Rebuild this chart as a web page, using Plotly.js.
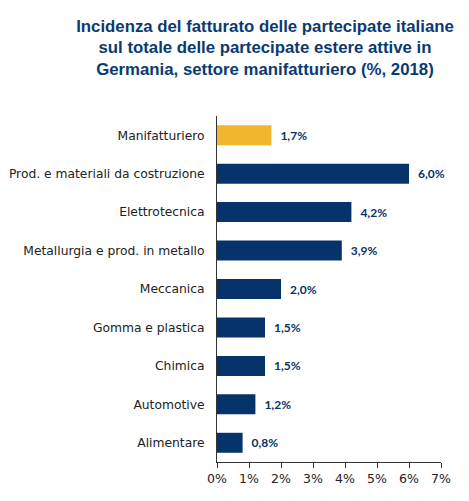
<!DOCTYPE html>
<html><head><meta charset="utf-8">
<script src="https://cdn.plot.ly/plotly-3.0.1.min.js"></script>
<style>html,body{margin:0;padding:0;background:#fff;}#chart{width:469px;height:501px;}</style>
</head><body><div id="chart"></div>
<script>
const categories = ["Manifatturiero","Prod. e materiali da costruzione","Elettrotecnica","Metallurgia e prod. in metallo","Meccanica","Gomma e plastica","Chimica","Automotive","Alimentare"];
const values = [1.7, 6.0, 4.2, 3.9, 2.0, 1.5, 1.5, 1.2, 0.8];
const valueLabels = ["1,7%","6,0%","4,2%","3,9%","2,0%","1,5%","1,5%","1,2%","0,8%"];
const tickVals = [0,1,2,3,4,5,6,7];
const tickText = ["0%","1%","2%","3%","4%","5%","6%","7%"];
const navy = "#06336B", gold = "#F0B62E";
const colors = categories.map((c,i)=> i===0 ? gold : navy);

Plotly.newPlot("chart", [{
  type: "bar", orientation: "h",
  y: categories, x: values,
  marker: {color: colors, line: {width: 0}},
  width: 0.52,
  text: valueLabels.map(t => "\u2002" + t), textposition: "outside",
  textfont: {family: "Lato, 'DejaVu Sans', sans-serif", size: 12, color: navy, weight: "bold"},
  cliponaxis: false, hoverinfo: "none"
}], {
  width: 469, height: 501,
  margin: {l: 217, r: 28, t: 116, b: 39, pad: 0},
  paper_bgcolor: "#fff", plot_bgcolor: "#fff",
  showlegend: false,
  title: {
    text: "<b>Incidenza del fatturato delle partecipate italiane<br>sul totale delle partecipate estere attive in<br>Germania, settore manifatturiero (%, 2018)</b>",
    font: {family: "'Liberation Sans', Arial, sans-serif", size: 16.8, color: "#0B3A72"},
    x: 0.565, xanchor: "center", y: 0.937, yanchor: "top"
  },
  xaxis: {
    range: [0, 7], tickvals: tickVals, ticktext: tickText,
    showgrid: false, zeroline: false,
    showline: true, linecolor: "#333", linewidth: 1,
    ticks: "outside", ticklen: 5, tickcolor: "#333",
    tickfont: {family: "'DejaVu Sans', sans-serif", size: 12.5, color: "#222"},
    fixedrange: true
  },
  yaxis: {
    autorange: "reversed", type: "category",
    showgrid: false, zeroline: false,
    showline: true, linecolor: "#333", linewidth: 1,
    ticks: "", ticklabelstandoff: 9,
    tickfont: {family: "'DejaVu Sans', sans-serif", size: 12.3, color: "#222"},
    fixedrange: true
  },
  bargap: 0.48
}, {displayModeBar: false, staticPlot: true});
</script></body></html>
